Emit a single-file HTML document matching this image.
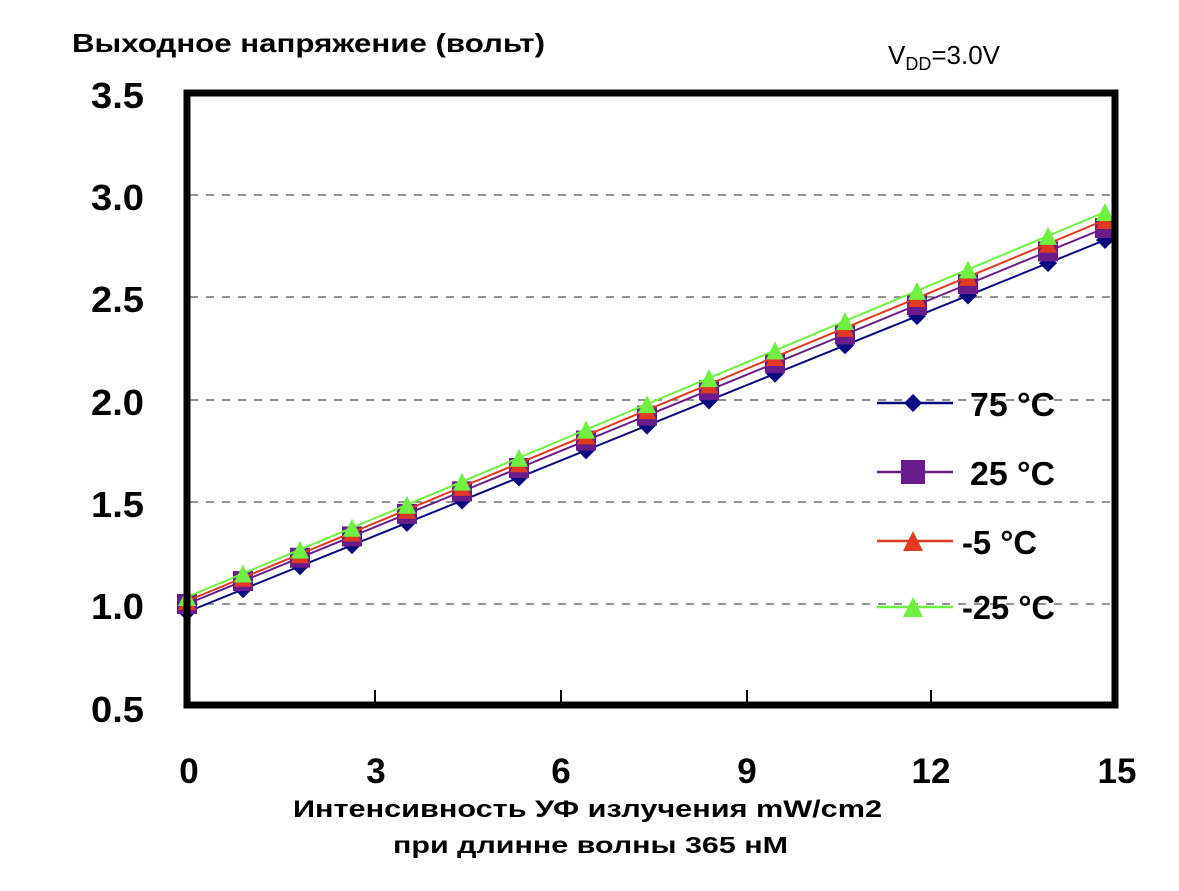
<!DOCTYPE html>
<html><head><meta charset="utf-8"><style>
body{margin:0;background:#fff;width:1179px;height:891px;overflow:hidden}
svg{display:block}
.t{font-family:"Liberation Sans",sans-serif;font-weight:bold}
</style></head><body>
<svg id="s" width="1179" height="891" xmlns="http://www.w3.org/2000/svg">
<g stroke="#555" stroke-width="1.2" stroke-dasharray="8,8">
<line x1="190" y1="195" x2="1114" y2="195"/>
<line x1="190" y1="297" x2="1114" y2="297"/>
<line x1="190" y1="400" x2="1114" y2="400"/>
<line x1="190" y1="502" x2="1114" y2="502"/>
<line x1="190" y1="604" x2="1114" y2="604"/>
</g>
<g stroke="#000" stroke-width="2">
<line x1="375" y1="690" x2="375" y2="704"/><line x1="561" y1="690" x2="561" y2="704"/>
<line x1="747" y1="690" x2="747" y2="704"/><line x1="931" y1="690" x2="931" y2="704"/>
</g>
<g id="series"></g>
<rect x="187" y="93" width="928" height="612" fill="none" stroke="#000" stroke-width="7"/>
<g class="t" font-size="36" fill="#000">
<text x="91" y="108" textLength="53" lengthAdjust="spacingAndGlyphs">3.5</text>
<text x="91" y="210" textLength="53" lengthAdjust="spacingAndGlyphs">3.0</text>
<text x="91" y="312" textLength="53" lengthAdjust="spacingAndGlyphs">2.5</text>
<text x="91" y="415" textLength="53" lengthAdjust="spacingAndGlyphs">2.0</text>
<text x="91" y="517" textLength="53" lengthAdjust="spacingAndGlyphs">1.5</text>
<text x="91" y="619" textLength="53" lengthAdjust="spacingAndGlyphs">1.0</text>
<text x="91" y="722" textLength="53" lengthAdjust="spacingAndGlyphs">0.5</text>
</g>
<g class="t" font-size="35" text-anchor="middle" fill="#000">
<text x="189" y="783">0</text><text x="376" y="783">3</text><text x="561" y="783">6</text>
<text x="747" y="783">9</text><text x="931" y="783">12</text><text x="1117" y="783">15</text>
</g>
<text class="t" x="72" y="52" font-size="26" textLength="473" lengthAdjust="spacingAndGlyphs">Выходное напряжение (вольт)</text>
<text x="888" y="64" font-family="Liberation Sans,sans-serif" font-size="26">V<tspan font-size="18" dy="6">DD</tspan><tspan dy="-6">=3.0V</tspan></text>
<text class="t" x="293" y="817" font-size="24" textLength="589" lengthAdjust="spacingAndGlyphs">Интенсивность УФ излучения mW/cm2</text>
<text class="t" x="393" y="853" font-size="23" textLength="395" lengthAdjust="spacingAndGlyphs">при длинне волны 365 нМ</text>
<g class="t" font-size="33">
<text x="970" y="416" textLength="85" lengthAdjust="spacingAndGlyphs">75 °C</text>
<text x="970" y="485" textLength="85" lengthAdjust="spacingAndGlyphs">25 °C</text>
<text x="962" y="554" textLength="75" lengthAdjust="spacingAndGlyphs">-5 °C</text>
<text x="962" y="619" textLength="93" lengthAdjust="spacingAndGlyphs">-25 °C</text>
</g>
</svg>
<script>
var xs=[187,243,300,352,407,462,519,586,647,709,775,845,917,968,1048,1105];
var S=[["#0a0a80",612,240,"d"],["#6a1d8a",604,228,"s"],["#e03a20",601,220,"t"],["#70f040",597,212,"t"]];
var g=document.getElementById("series"),h="";
function mk(c,x,y,t,big){
 if(t=="d"){var r=9;return '<polygon points="'+x+','+(y-r)+' '+(x+r)+','+y+' '+x+','+(y+r)+' '+(x-r)+','+y+'" fill="'+c+'"/>';}
 if(t=="s"){var r=big?12:10;return '<rect x="'+(x-r)+'" y="'+(y-r)+'" width="'+2*r+'" height="'+2*r+'" fill="'+c+'"/>';}
 var r=big?10:9;return '<polygon points="'+x+','+(y-r)+' '+(x+r)+','+(y+r)+' '+(x-r)+','+(y+r)+'" fill="'+c+'"/>';
}
S.forEach(function(s){
 var pts=xs.map(function(x){return [x,s[1]-(x-187)*(s[1]-s[2])/918];});
 h+='<polyline fill="none" stroke="'+s[0]+'" stroke-width="2" points="'+pts.map(function(p){return p.join(",")}).join(" ")+'"/>';
 pts.forEach(function(p){h+=mk(s[0],p[0],p[1],s[3]);});
});
var ly=[403,472,541,607];
S.forEach(function(s,i){h+='<line x1="877" x2="953" y1="'+ly[i]+'" y2="'+ly[i]+'" stroke="'+s[0]+'" stroke-width="2.5"/>'+mk(s[0],913,ly[i],s[3],true);});
g.innerHTML=h;
</script>
</body></html>
